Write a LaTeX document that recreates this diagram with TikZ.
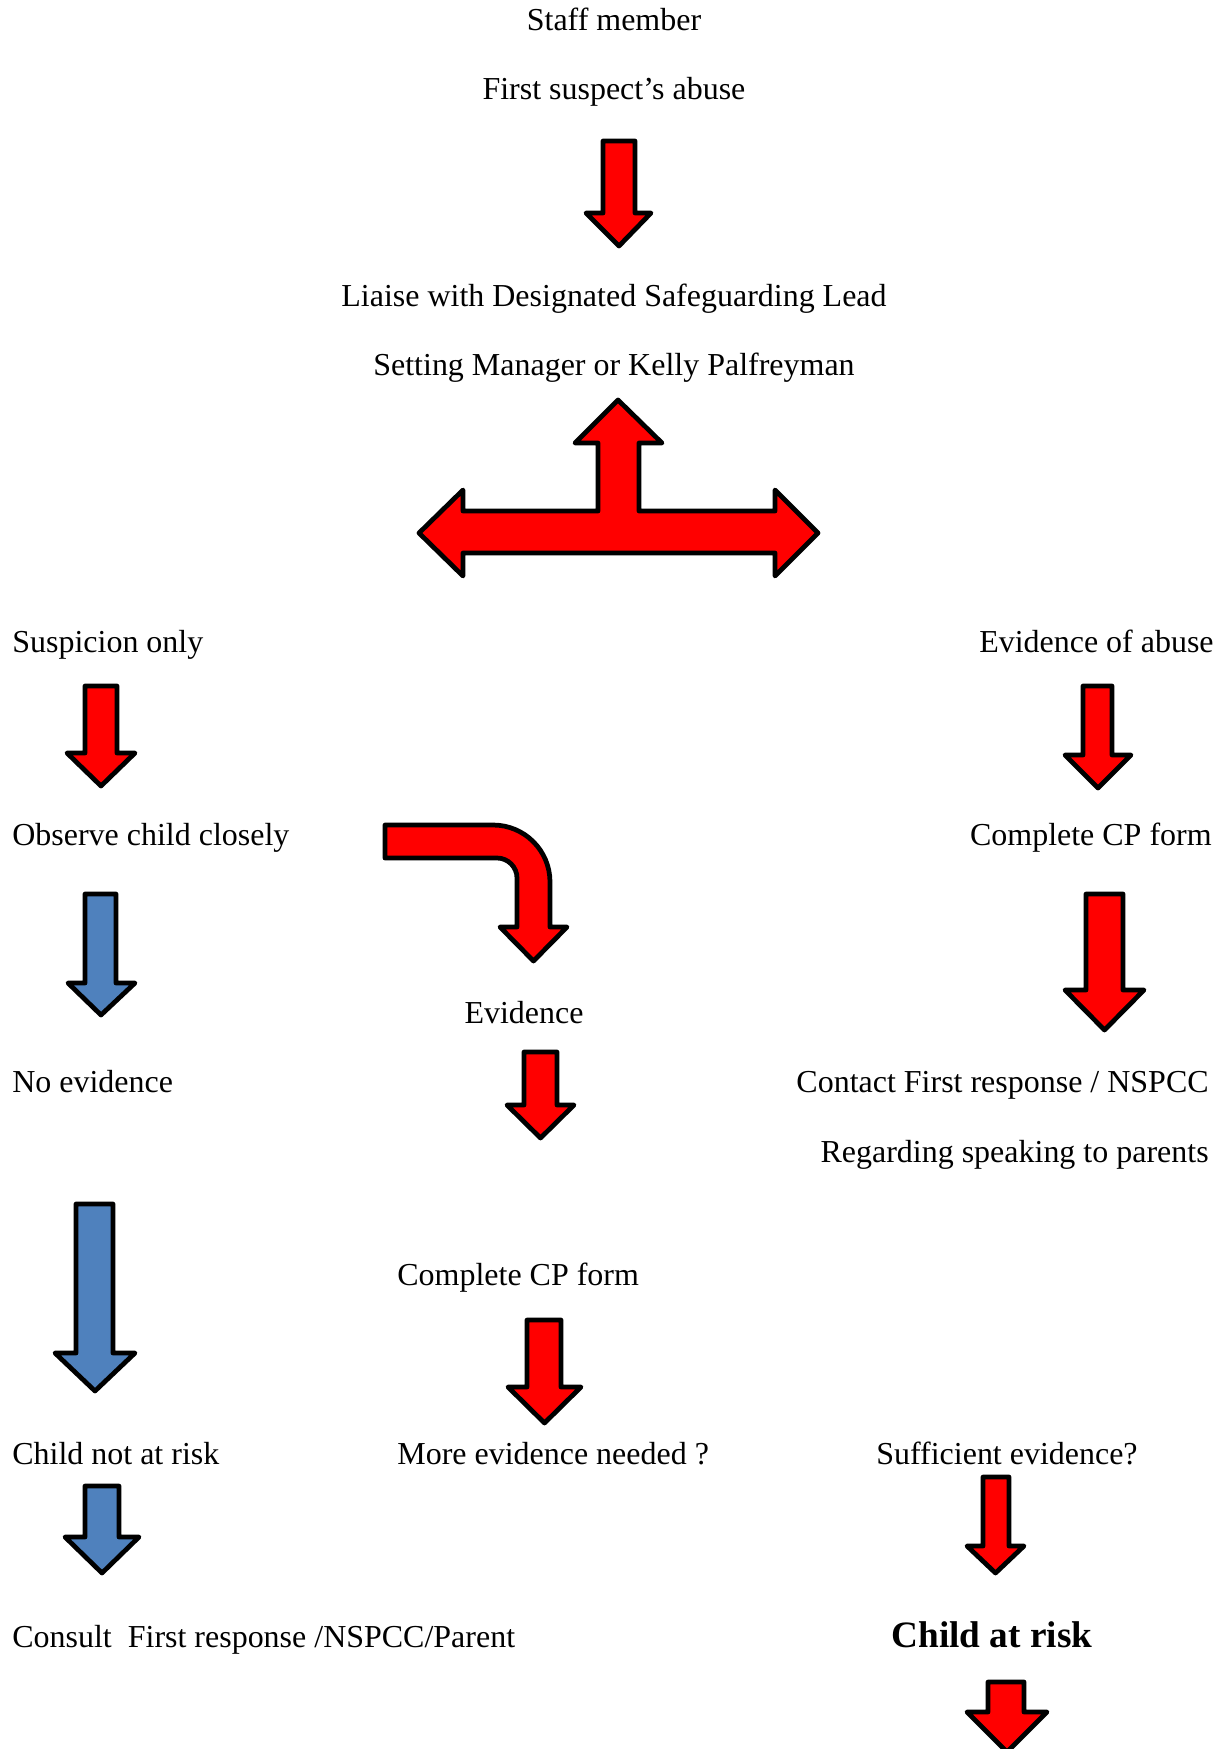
\documentclass[tikz,border=0pt]{standalone}
\usepackage{fontspec}
\setmainfont{Liberation Serif}
\usepackage{xcolor}
\usetikzlibrary{positioning}

\definecolor{arrowred}{HTML}{FF0000}
\definecolor{arrowblue}{HTML}{4F81BD}

\begin{document}
\begin{tikzpicture}[x=0.02cm,y=-0.02cm]
	%\draw[help lines] (0,0) grid (1223,1749);
	\useasboundingbox (0,0) rectangle (1223,1749);
	\clip (0,0) rectangle (1223,1749);

	\tikzstyle{txt} = [inner sep=0pt,font=\fontsize{18.2pt}{22pt}\selectfont]
	\tikzstyle{bigtxt} = [inner sep=0pt,font=\fontsize{21.2pt}{25pt}\selectfont\bfseries]
	\tikzstyle{redarrow} = [draw=black,fill=arrowred,line width=2.7pt,line join=round]
	\tikzstyle{bluearrow} = [draw=black,fill=arrowblue,line width=2.7pt,line join=round]

% top of the chart
\node[txt,anchor=base] (staff) at (614,30) {Staff member};
\node[txt,anchor=base] (suspect) at (614,99) {First suspect’s abuse};
\draw[redarrow] (603,141) -- (635,141) -- (635,213) -- (651,213) -- (619,246) -- (586,213) -- (603,213) -- cycle;

\node[txt,anchor=base] (liaise) at (614,306) {Liaise with Designated Safeguarding Lead};
\node[txt,anchor=base] (setting) at (614,375) {Setting Manager or Kelly Palfreyman};

% three way arrow
\draw[redarrow] (618,400) -- (662,443) -- (639,443) -- (639,511) -- (775,511) -- (775,490) -- (818,533) -- (775,576) -- (775,553)
	-- (463,553) -- (463,576) -- (419,533) -- (463,490) -- (463,511) -- (598,511) -- (598,443) -- (575,443) -- cycle;

% left and right branches
\node[txt,anchor=base west] (suspicion) at (12,652) {Suspicion only};
\node[txt,anchor=base east] (evabuse) at (1214,652) {Evidence of abuse};
\draw[redarrow] (85,686) -- (117,686) -- (117,753) -- (135,753) -- (101,786) -- (67,753) -- (85,753) -- cycle;
\draw[redarrow] (1083,686) -- (1112,686) -- (1112,755) -- (1131,755) -- (1098,788) -- (1065,755) -- (1083,755) -- cycle;

\node[txt,anchor=base west] (observe) at (12,845) {Observe child closely};
\node[txt,anchor=base east] (cpformR) at (1212,845) {Complete CP form};

\draw[bluearrow] (85,894) -- (116,894) -- (116,983) -- (135,983) -- (101,1015) -- (68,983) -- (85,983) -- cycle;
\draw[redarrow] (385,825) -- (493,825) .. controls (524.5,825) and (550,850.5) .. (550,882) -- (550,927) -- (567,927)
	-- (533.5,961) -- (500,927) -- (517,927) -- (517,878) .. controls (517,867) and (508,858) .. (497,858) -- (385,858) -- cycle;
\draw[redarrow] (1086,894) -- (1123,894) -- (1123,990) -- (1144,990) -- (1104.5,1030) -- (1065,990) -- (1086,990) -- cycle;

\node[txt,anchor=base] (evidence) at (524,1023) {Evidence};
\node[txt,anchor=base west] (noev) at (12,1092) {No evidence};
\node[txt,anchor=base east] (contact) at (1209,1092) {Contact First response / NSPCC};
\node[txt,anchor=base east] (regarding) at (1209,1162) {Regarding speaking to parents};
\draw[redarrow] (524,1052) -- (557,1052) -- (557,1105) -- (574,1105) -- (540.5,1138) -- (507,1105) -- (524,1105) -- cycle;

\draw[bluearrow] (76,1204) -- (113,1204) -- (113,1353) -- (135,1353) -- (95,1391) -- (55,1353) -- (76,1353) -- cycle;
\node[txt,anchor=base west] (cpformM) at (397,1285) {Complete CP form};
\draw[redarrow] (527,1320) -- (561,1320) -- (561,1387) -- (581,1387) -- (544.5,1423) -- (508,1387) -- (527,1387) -- cycle;

% bottom row
\node[txt,anchor=base west] (notrisk) at (12,1464) {Child not at risk};
\node[txt,anchor=base west] (moreev) at (397,1464) {More evidence needed ?};
\node[txt,anchor=base] (suffev) at (1007,1464) {Sufficient evidence?};
\draw[bluearrow] (85,1486) -- (119,1486) -- (119,1537) -- (139,1537) -- (102,1573) -- (65,1537) -- (85,1537) -- cycle;
\draw[redarrow] (983,1477) -- (1009,1477) -- (1009,1546) -- (1024,1546) -- (995.5,1573) -- (967,1546) -- (983,1546) -- cycle;

\node[txt,anchor=base west] (consult) at (12,1647) {Consult\ \ First response /NSPCC/Parent};
\node[bigtxt,anchor=base] (atrisk) at (992,1647) {Child at risk};
\draw[redarrow] (988,1682) -- (1024,1682) -- (1024,1712) -- (1047,1712) -- (1007,1752) -- (967,1712) -- (988,1712) -- cycle;
\end{tikzpicture}
\end{document}
